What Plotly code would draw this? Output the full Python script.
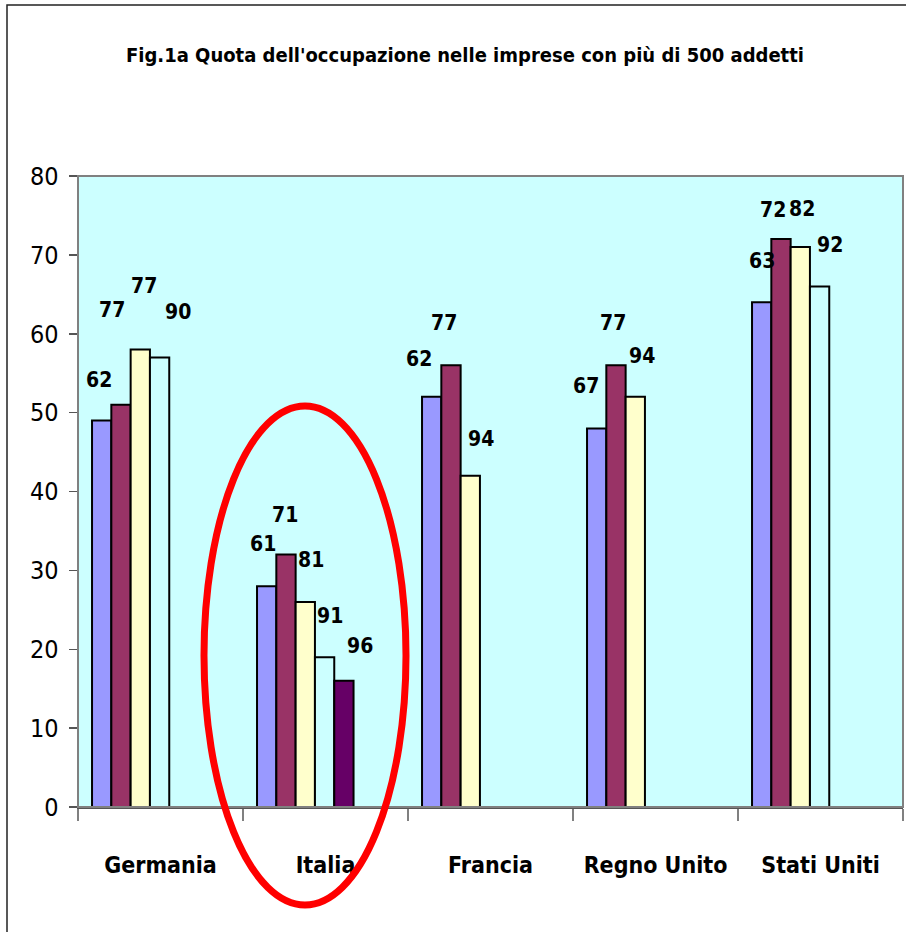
import plotly.graph_objects as go

# ---------------- data ----------------
COUNTRIES = ["Germania", "Italia", "Francia", "Regno Unito", "Stati Uniti"]

SERIES_1 = [49, 28, 52, 48, 64]
SERIES_2 = [51, 32, 56, 56, 72]
SERIES_3 = [58, 26, 42, 52, 71]
SERIES_4 = [57, 19, None, None, 66]
SERIES_5 = [None, 16, None, None, None]

LABELS_1 = ["62", "61", "62", "67", "63"]
LABELS_2 = ["77", "71", "77", "77", "72"]
LABELS_3 = ["77", "81", "94", "94", "82"]
LABELS_4 = ["90", "91", None, None, "92"]
LABELS_5 = [None, "96", None, None, None]

Y_TICKS = [0, 10, 20, 30, 40, 50, 60, 70, 80]

TITLE = "Fig.1a Quota dell'occupazione nelle imprese con più di 500 addetti"

# ---------------- style ----------------
COLORS = ["#9999FF", "#993366", "#FFFFCC", "#CCFFFF", "#660066"]
FONT = "Liberation Sans Narrow, Arial Narrow, DejaVu Sans Condensed, sans-serif"

# label pixel nudges (dx, dy above bar top) per series
LABEL_DX = [[-3, -4, -13, -11, 0],
            [-9, -1, -7, -3, -8],
            [4, 6, 11, 7, 2],
            [18, 5, 0, 0, 10],
            [0, 16, 0, 0, 0]]
LABEL_DY = [[41, 42, 38, 42, 41],
            [95, 40, 42, 42, 29],
            [64, 42, 37, 41, 38],
            [45, 41, 0, 0, 41],
            [0, 35, 0, 0, 0]]

BAR_W = 0.117
OFFSET0 = -0.415

series = [SERIES_1, SERIES_2, SERIES_3, SERIES_4, SERIES_5]
labels = [LABELS_1, LABELS_2, LABELS_3, LABELS_4, LABELS_5]

fig = go.Figure()
annotations = []
for j, (vals, labs) in enumerate(zip(series, labels)):
    fig.add_trace(go.Bar(
        x=COUNTRIES, y=vals,
        width=BAR_W, offset=OFFSET0 + j * BAR_W,
        marker=dict(color=COLORS[j], line=dict(color="black", width=2)),
        showlegend=False, hoverinfo="skip",
    ))
    for ci, (v, lab) in enumerate(zip(vals, labs)):
        if v is None or lab is None:
            continue
        annotations.append(dict(
            x=ci + OFFSET0 + (j + 0.5) * BAR_W, y=v, xref="x", yref="y",
            text="<b>%s</b>" % lab, showarrow=False,
            xanchor="center", yanchor="middle",
            xshift=LABEL_DX[j][ci], yshift=LABEL_DY[j][ci],
            font=dict(family=FONT, size=21, color="black"),
        ))

W_FIG, H_FIG = 906, 932
# plot area in picture pixels
L, R, T, B = 78, 903, 176, 807
PW, PH = R - L, B - T


def px(xp):
    return (xp - L) / PW


def py(yp):
    return (B - yp) / PH


shapes = [
    # outer chart frame
    dict(type="rect", xref="paper", yref="paper",
         x0=px(7), x1=px(960), y0=py(990), y1=py(5),
         line=dict(color="#222222", width=1.5), fillcolor="rgba(0,0,0,0)", layer="below"),
    # plot area border (top/right grey)
    dict(type="rect", xref="paper", yref="paper", x0=0, x1=1, y0=0, y1=1,
         line=dict(color="#808080", width=2), fillcolor="rgba(0,0,0,0)", layer="above"),
    # red ellipse
    dict(type="circle", xref="paper", yref="paper",
         x0=px(204), x1=px(406), y0=py(905), y1=py(406),
         line=dict(color="#FF0000", width=7), fillcolor="rgba(0,0,0,0)", layer="above"),
]

fig.update_layout(
    width=W_FIG, height=H_FIG,
    margin=dict(l=L, r=W_FIG - R, t=T, b=H_FIG - B, pad=0, autoexpand=False),
    paper_bgcolor="white", plot_bgcolor="#CCFFFF",
    barmode="overlay",
    title=dict(text="<b>" + TITLE + "</b>", x=px(465), xref="paper", xanchor="center",
               y=1 - 55 / H_FIG, yref="container", yanchor="middle",
               font=dict(family=FONT, size=20, color="black")),
    xaxis=dict(
        type="category", showgrid=False, showline=True, linecolor="#555555", linewidth=1.5,
        ticks="outside", tickson="boundaries", ticklen=12, tickcolor="#808080", tickwidth=1.5,
        tickfont=dict(family=FONT, size=23, color="black"),
        tickvals=COUNTRIES, ticktext=["<b>%s</b>" % c for c in COUNTRIES],
        tickangle=0, automargin=False,
        ticklabelstandoff=37, fixedrange=True,
    ),
    yaxis=dict(
        range=[0, 80], tickvals=Y_TICKS, showgrid=False, zeroline=False,
        showline=True, linecolor="#333333", linewidth=1.5,
        ticks="outside", ticklen=8, tickcolor="#555555", tickwidth=1.5,
        tickfont=dict(family=FONT, size=25, color="black"),
        automargin=False,
        ticklabelstandoff=5, fixedrange=True,
    ),
    annotations=annotations,
    shapes=shapes,
)

fig.write_html(
    "out.html",
    config={"displayModeBar": False, "staticPlot": True},
    post_script="document.body.style.margin='0';document.body.style.overflow='hidden';",
)
